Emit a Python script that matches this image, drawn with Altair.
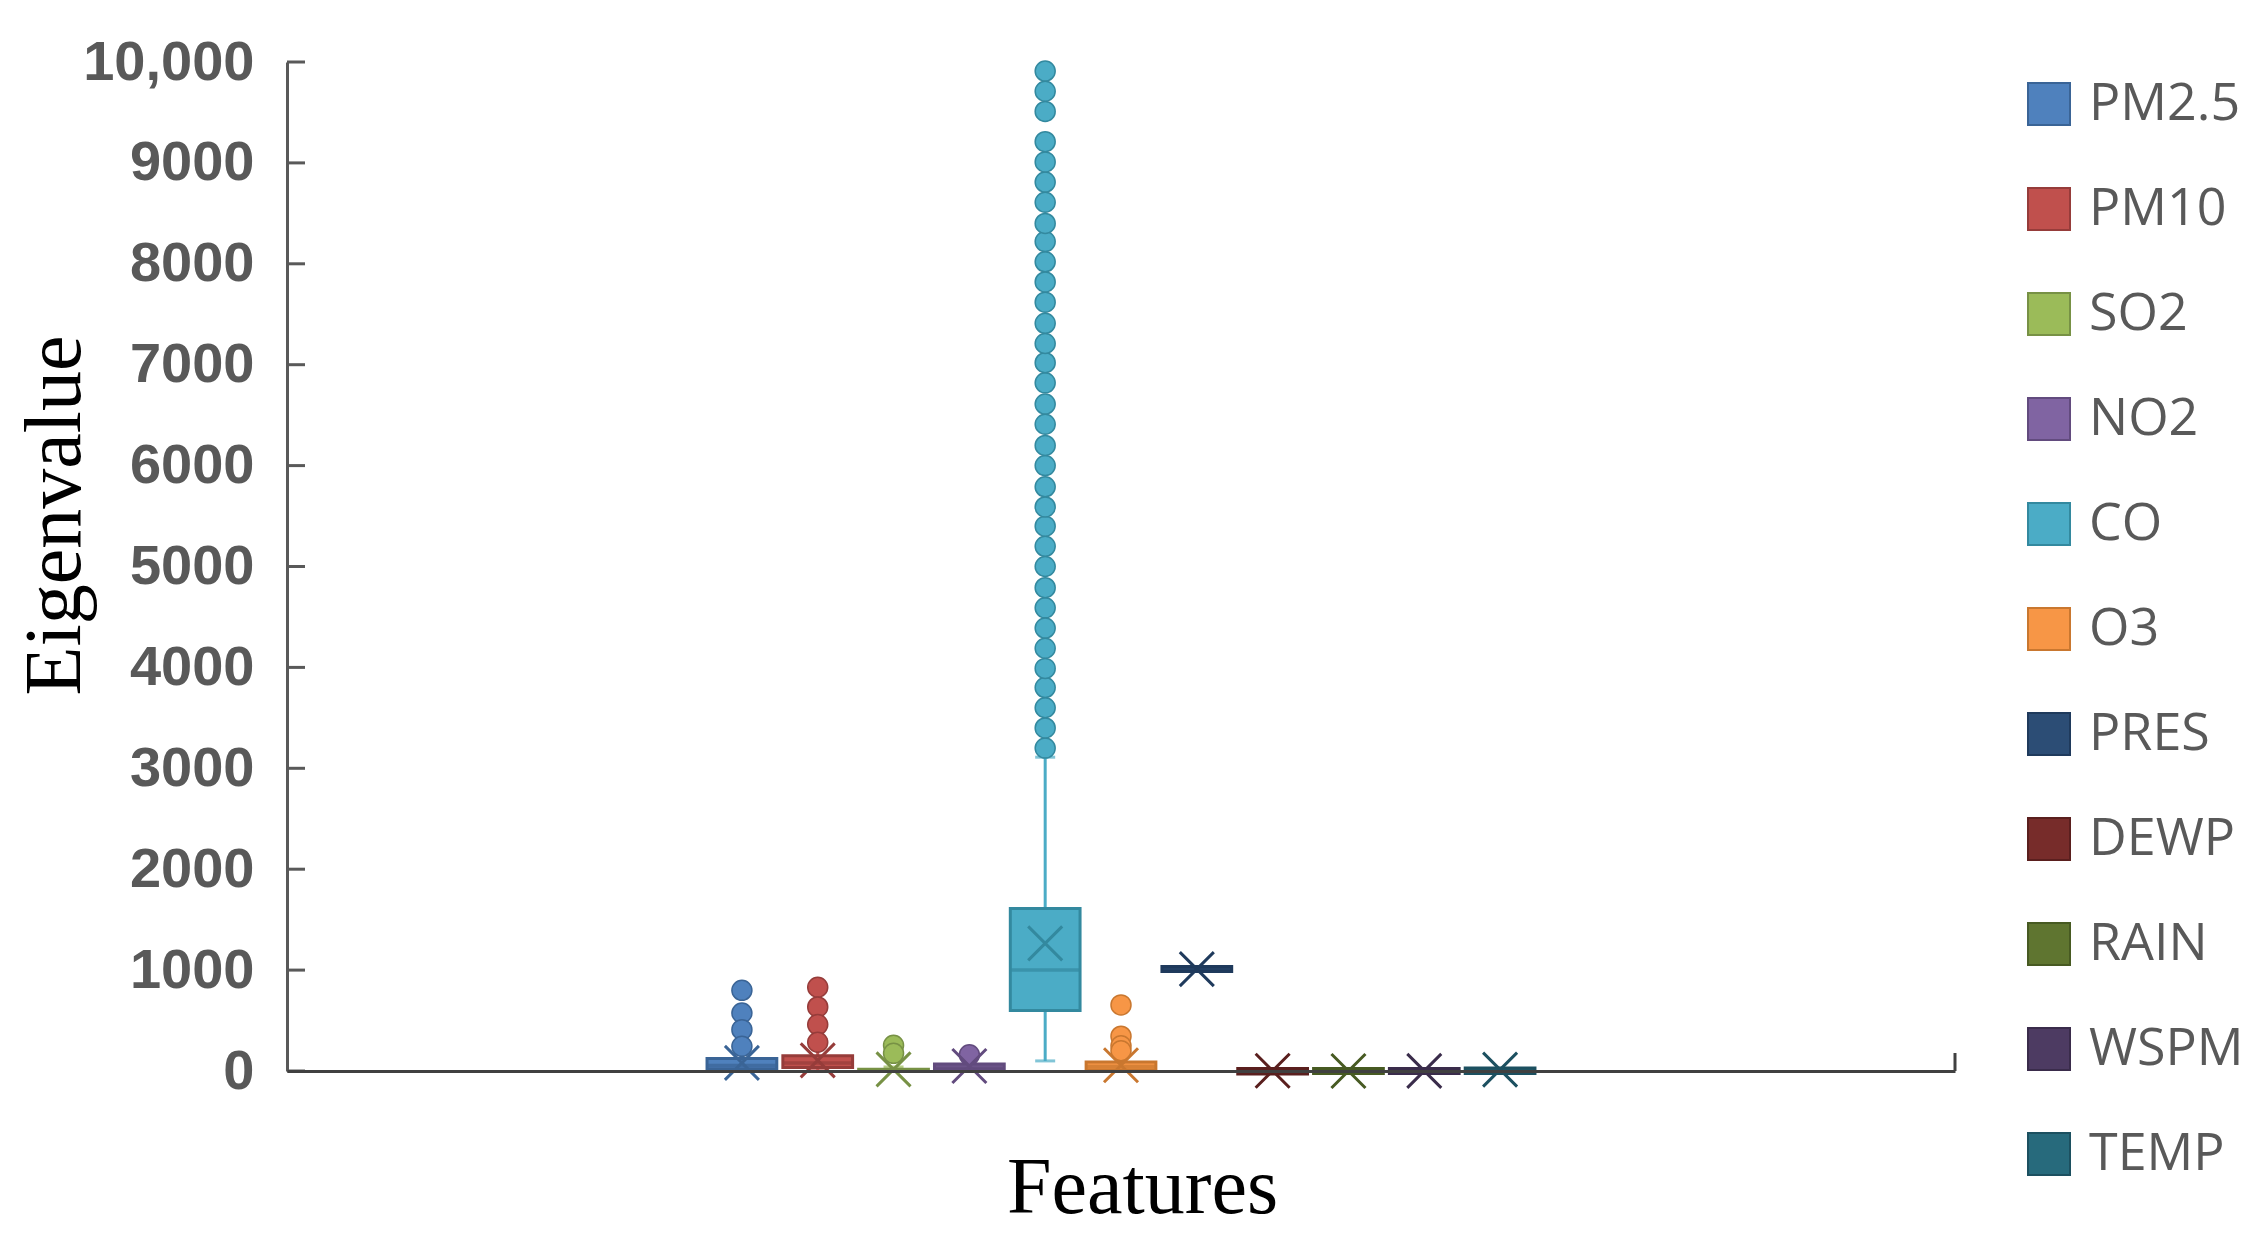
import altair as alt
import pandas as pd

# ---------------- data ----------------
series = ["PM2.5", "PM10", "SO2", "NO2", "CO", "O3", "PRES", "DEWP", "RAIN", "WSPM", "TEMP"]
fill_colors = ["#4F81BD", "#C0504D", "#9BBB59", "#8064A2", "#4BACC6", "#F79646",
               "#2C4D75", "#772C2A", "#5F7530", "#4D3B62", "#276A7C"]
stroke_colors = ["#3A6496", "#963C3A", "#779145", "#624B7E", "#33899F", "#C9772F",
                 "#1F3A5C", "#5A1F1E", "#475A22", "#3A2C4B", "#1C5060"]

whisk_lo = [3, 5, 0, 2, 100, 0, 990, -25, -20, -20, -20]
q1 = [20, 35, 3, 22, 600, 10, 985, -30, -25, -25, -25]
median = [55, 80, 8, 43, 1000, 45, 1010, 3, 0, 1.4, 14]
q3 = [125, 150, 18, 70, 1610, 90, 1035, 25, 25, 25, 30]
whisk_hi = [250, 310, 40, 150, 3110, 210, 1030, 20, 20, 20, 25]
mean = [80, 105, 16, 50, 1265, 57, 1010, 2.5, 0.1, 1.7, 13.5]

out_pm25 = [800, 575, 410, 245]
out_pm10 = [830, 635, 460, 285]
out_so2 = [255, 175]
out_no2 = [160]
out_co = [3200, 3400, 3600, 3800, 3990, 4190, 4390, 4590, 4790, 5000, 5200, 5400,
          5590, 5790, 6000, 6200, 6410, 6610, 6820, 7020, 7210, 7410, 7620, 7820,
          8020, 8220, 8400, 8610, 8810, 9010, 9210, 9510, 9710, 9910]
out_o3 = [655, 345, 250, 200]

y_ticks = [0, 1000, 2000, 3000, 4000, 5000, 6000, 7000, 8000, 9000, 10000]

# ---------------- tables ----------------
stats = pd.DataFrame({
    "grp": "Features", "series": series, "lo": whisk_lo, "q1": q1, "med": median,
    "q3": q3, "hi": whisk_hi, "mean": mean,
})
out_rows = []
for name, vals in [("PM2.5", out_pm25), ("PM10", out_pm10), ("SO2", out_so2),
                   ("NO2", out_no2), ("CO", out_co), ("O3", out_o3)]:
    for v in vals:
        out_rows.append({"grp": "Features", "series": name, "v": v})
outliers = pd.DataFrame(out_rows)
ticks_df = pd.DataFrame({"t": y_ticks})

W, H = 1668, 1009

yscale = alt.Scale(domain=[0, 10000], nice=False)
xscale = alt.Scale(type="band", paddingOuter=0.5, paddingInner=0)
xoff = alt.XOffset("series:N", scale=alt.Scale(type="band", domain=series,
                                                paddingInner=0.08, paddingOuter=0.04))
fill_scale = alt.Scale(domain=series, range=fill_colors)
stroke_scale = alt.Scale(domain=series, range=stroke_colors)

legend = alt.Legend(
    orient="none", legendX=1736, legendY=16, title=None, symbolType="square",
    symbolSize=1764, symbolStrokeWidth=2, symbolOpacity=1, labelFont="Open Sans",
    labelFontSize=52, labelColor="#595959", labelOffset=14, rowPadding=53,
    labelLimit=400, padding=0)

fill_enc = alt.Fill("series:N", scale=fill_scale, legend=legend)
stroke_enc = alt.Stroke("series:N", scale=stroke_scale, legend=legend)

x_enc = alt.X("grp:N", scale=xscale, axis=alt.Axis(
    labels=False, ticks=False, domain=True, domainColor="#404040", domainWidth=3,
    title="Features", titleFont="Liberation Serif", titleFontSize=80,
    titleFontWeight="normal", titleColor="black", titleX=855, titleY=141,
    titleBaseline="alphabetic", titleAlign="center", zindex=1))

y_axis = alt.Axis(
    values=y_ticks, grid=False, ticks=False, domain=True, domainColor="#595959",
    domainWidth=3, labelFont="Liberation Sans", labelFontWeight="bold",
    labelFontSize=56, labelColor="#595959", labelPadding=33,
    labelExpr="datum.value >= 10000 ? format(datum.value, ',') : format(datum.value, 'd')",
    title="Eigenvalue", titleFont="Liberation Serif", titleFontSize=80,
    titleFontWeight="normal", titleColor="black", titleAngle=270, titleX=-208,
    titleY=453, titleAlign="center", titleBaseline="alphabetic")

base = alt.Chart(stats)

whiskers = base.mark_bar(width=3).encode(
    x=x_enc, xOffset=xoff,
    y=alt.Y("lo:Q", scale=yscale, axis=y_axis), y2="hi:Q",
    fill=fill_enc)

cap_lo = base.mark_tick(size=20, thickness=3).encode(
    x=x_enc, xOffset=xoff, y=alt.Y("lo:Q", scale=yscale), fill=fill_enc)
cap_hi = base.mark_tick(size=20, thickness=3).encode(
    x=x_enc, xOffset=xoff, y=alt.Y("hi:Q", scale=yscale), fill=fill_enc)

boxes = base.mark_bar(strokeWidth=3).encode(
    x=x_enc, xOffset=xoff, y=alt.Y("q1:Q", scale=yscale), y2="q3:Q",
    fill=fill_enc, stroke=stroke_enc)

medians = base.mark_tick(size=68, thickness=1, filled=False, strokeWidth=2.5).encode(
    x=x_enc, xOffset=xoff, y=alt.Y("med:Q", scale=yscale), stroke=stroke_enc)

means = base.mark_point(shape="M-1,-1L1,1M-1,1L1,-1", size=1156, strokeWidth=3,
                        filled=False, opacity=1).encode(
    x=x_enc, xOffset=xoff, y=alt.Y("mean:Q", scale=yscale), stroke=stroke_enc)

outs = alt.Chart(outliers).mark_point(filled=True, shape="circle", size=400,
                                       strokeWidth=1.5, opacity=1).encode(
    x=x_enc, xOffset=xoff, y=alt.Y("v:Q", scale=yscale),
    fill=fill_enc, stroke=stroke_enc)

inner_ticks = alt.Chart(ticks_df).mark_rule(color="#595959", strokeWidth=3).encode(
    y=alt.Y("t:Q", scale=yscale), x=alt.value(0), x2=alt.value(18))

end_tick = alt.Chart(pd.DataFrame({"t": [0]})).mark_rule(color="#404040", strokeWidth=3).encode(
    y=alt.Y("t:Q", scale=yscale), y2=alt.value(H - 18), x=alt.value(W))

chart = alt.layer(
    whiskers, cap_lo, cap_hi, boxes, medians, outs, means, inner_ticks, end_tick
).properties(
    width=W, height=H,
    autosize=alt.AutoSizeParams(type="none"),
    padding={"left": 279, "top": 54, "right": 296, "bottom": 160},
    background="white",
).configure_view(stroke=None)

chart.save("out.html", embed_options={"renderer": "svg", "actions": False})
